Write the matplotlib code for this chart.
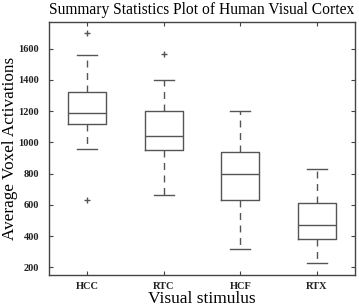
import matplotlib
matplotlib.use("Agg")
import matplotlib.pyplot as plt

# values
stimuli = ["HCC", "RTC", "HCF", "RTX"]
q1 = [1118, 950, 630, 385]
med = [1190, 1040, 795, 470]
q3 = [1325, 1200, 940, 615]
whislo = [958, 665, 320, 230]
whishi = [1560, 1400, 1200, 830]
fliers = [[1700, 632], [1565], [], []]

plt.rcParams['font.family'] = ['Liberation Serif', 'DejaVu Serif']

stats = []
for i, name in enumerate(stimuli):
    stats.append({"label": name, "q1": q1[i], "med": med[i], "q3": q3[i],
                  "whislo": whislo[i], "whishi": whishi[i], "fliers": fliers[i]})

fig = plt.figure(figsize=(3.59, 3.06), dpi=100)
ax = fig.add_axes([49 / 359, 31 / 306, 306 / 359, 253 / 306])

col = "#555555"
ax.bxp(stats, widths=0.5, showfliers=True,
       boxprops=dict(color=col, linewidth=1.0),
       medianprops=dict(color=col, linewidth=1.0),
       whiskerprops=dict(color=col, linewidth=1.0, linestyle=(0, (5, 4))),
       capprops=dict(color=col, linewidth=1.0),
       capwidths=0.26,
       flierprops=dict(marker="+", markeredgecolor=col, markersize=5, linestyle="none"))

ax.set_xlim(0.5, 4.5)
ax.set_ylim(152, 1770)
ax.set_yticks([200, 400, 600, 800, 1000, 1200, 1400, 1600])
ax.tick_params(direction="in", top=True, right=True, length=3, color="#444444",
               labelsize=7.5)
ax.tick_params(axis="y", pad=7)
ax.tick_params(axis="x", pad=5)
for lbl in ax.get_xticklabels() + ax.get_yticklabels():
    lbl.set_fontweight("bold")
    lbl.set_color("#222222")
for s in ax.spines.values():
    s.set_color("#444444")
    s.set_linewidth(1.0)

ax.set_title("Summary Statistics Plot of Human Visual Cortex", fontsize=11.2, pad=6)
ax.set_xlabel("Visual stimulus", fontsize=12.5, labelpad=0)
ax.set_ylabel("Average Voxel Activations", fontsize=12.3)
ax.yaxis.set_label_coords(-0.1, 0.5)

fig.savefig("out.png", dpi=100)
